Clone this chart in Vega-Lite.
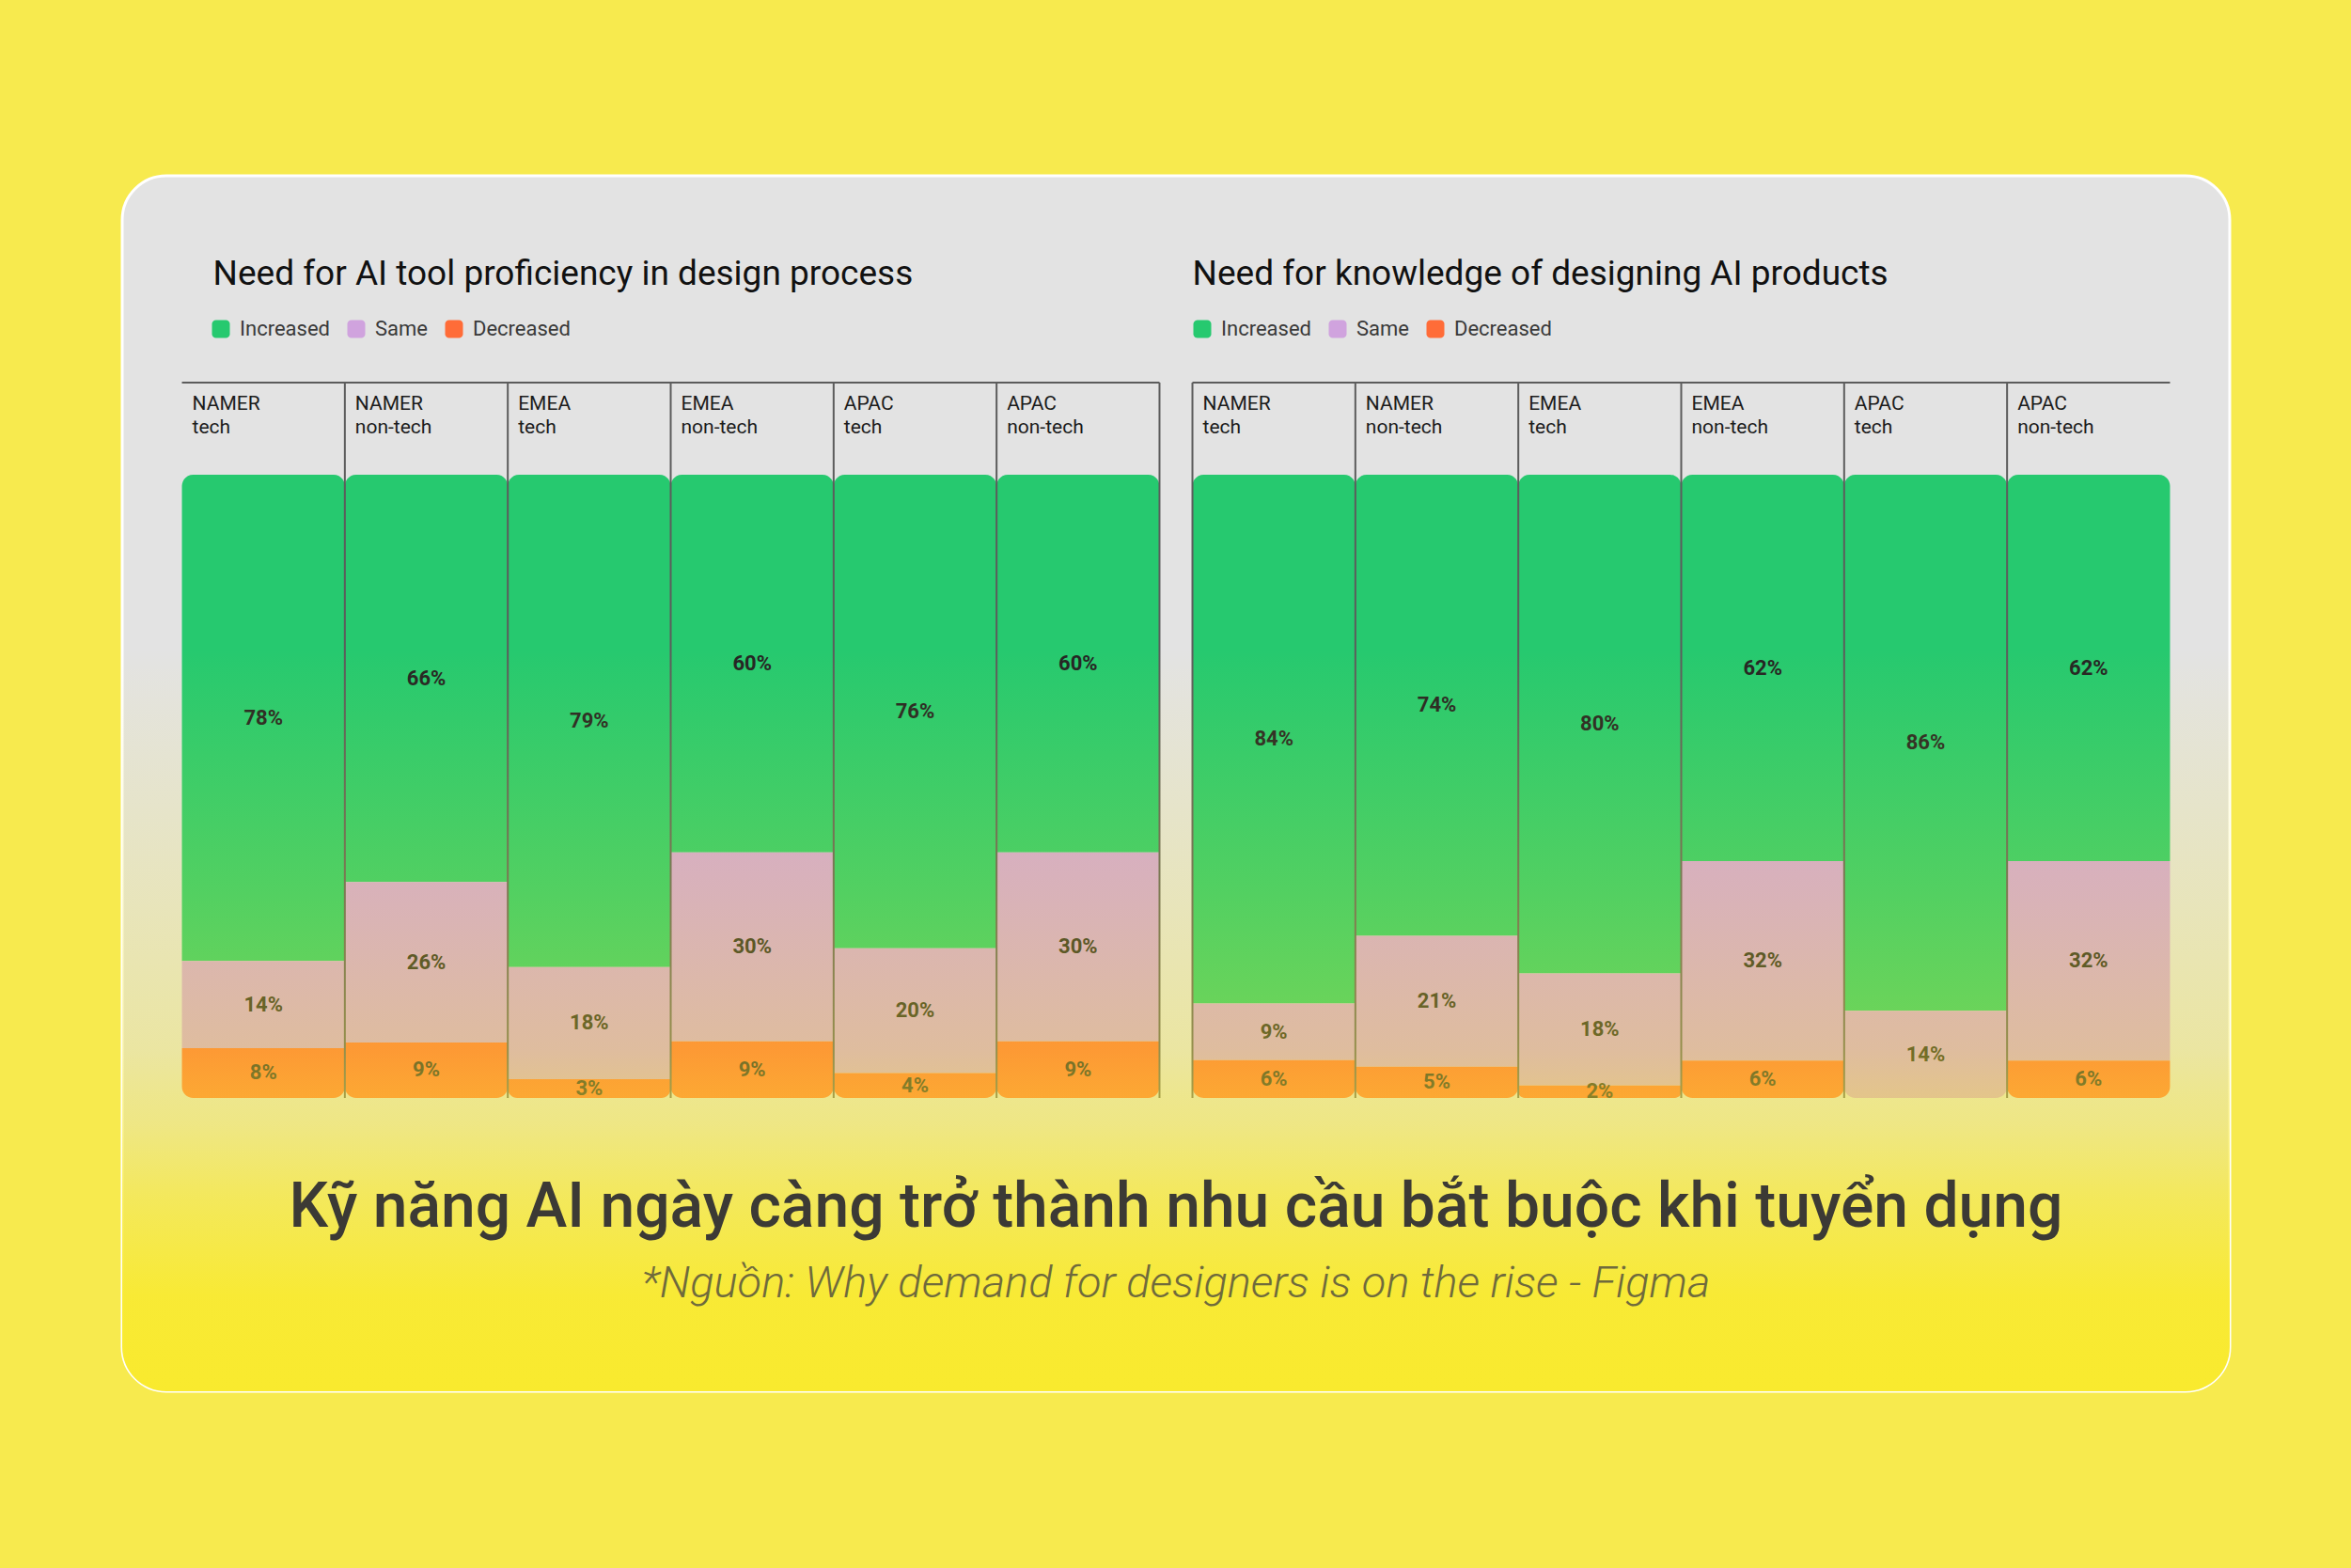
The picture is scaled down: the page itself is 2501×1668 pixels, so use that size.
{
  "$schema": "https://vega.github.io/schema/vega-lite/v6.json",
  "width": 2501,
  "height": 1668,
  "autosize": {"type": "fit", "contains": "padding"},
  "padding": {"left": 130, "top": 187, "right": 129, "bottom": 188},
  "background": "#f7ea4e",
  "datasets": {
    "bars": [
      {"panel": "Need for AI tool proficiency in design process", "grp": "NAMER tech", "status": "Increased", "ord": 2, "pct": 0.78},
      {"panel": "Need for AI tool proficiency in design process", "grp": "NAMER tech", "status": "Same", "ord": 1, "pct": 0.14},
      {"panel": "Need for AI tool proficiency in design process", "grp": "NAMER tech", "status": "Decreased", "ord": 0, "pct": 0.08},
      {"panel": "Need for AI tool proficiency in design process", "grp": "NAMER non-tech", "status": "Increased", "ord": 2, "pct": 0.66},
      {"panel": "Need for AI tool proficiency in design process", "grp": "NAMER non-tech", "status": "Same", "ord": 1, "pct": 0.26},
      {"panel": "Need for AI tool proficiency in design process", "grp": "NAMER non-tech", "status": "Decreased", "ord": 0, "pct": 0.09},
      {"panel": "Need for AI tool proficiency in design process", "grp": "EMEA tech", "status": "Increased", "ord": 2, "pct": 0.79},
      {"panel": "Need for AI tool proficiency in design process", "grp": "EMEA tech", "status": "Same", "ord": 1, "pct": 0.18},
      {"panel": "Need for AI tool proficiency in design process", "grp": "EMEA tech", "status": "Decreased", "ord": 0, "pct": 0.03},
      {"panel": "Need for AI tool proficiency in design process", "grp": "EMEA non-tech", "status": "Increased", "ord": 2, "pct": 0.60},
      {"panel": "Need for AI tool proficiency in design process", "grp": "EMEA non-tech", "status": "Same", "ord": 1, "pct": 0.30},
      {"panel": "Need for AI tool proficiency in design process", "grp": "EMEA non-tech", "status": "Decreased", "ord": 0, "pct": 0.09},
      {"panel": "Need for AI tool proficiency in design process", "grp": "APAC tech", "status": "Increased", "ord": 2, "pct": 0.76},
      {"panel": "Need for AI tool proficiency in design process", "grp": "APAC tech", "status": "Same", "ord": 1, "pct": 0.20},
      {"panel": "Need for AI tool proficiency in design process", "grp": "APAC tech", "status": "Decreased", "ord": 0, "pct": 0.04},
      {"panel": "Need for AI tool proficiency in design process", "grp": "APAC non-tech", "status": "Increased", "ord": 2, "pct": 0.60},
      {"panel": "Need for AI tool proficiency in design process", "grp": "APAC non-tech", "status": "Same", "ord": 1, "pct": 0.30},
      {"panel": "Need for AI tool proficiency in design process", "grp": "APAC non-tech", "status": "Decreased", "ord": 0, "pct": 0.09},
      {"panel": "Need for knowledge of designing AI products", "grp": "NAMER tech", "status": "Increased", "ord": 2, "pct": 0.84},
      {"panel": "Need for knowledge of designing AI products", "grp": "NAMER tech", "status": "Same", "ord": 1, "pct": 0.09},
      {"panel": "Need for knowledge of designing AI products", "grp": "NAMER tech", "status": "Decreased", "ord": 0, "pct": 0.06},
      {"panel": "Need for knowledge of designing AI products", "grp": "NAMER non-tech", "status": "Increased", "ord": 2, "pct": 0.74},
      {"panel": "Need for knowledge of designing AI products", "grp": "NAMER non-tech", "status": "Same", "ord": 1, "pct": 0.21},
      {"panel": "Need for knowledge of designing AI products", "grp": "NAMER non-tech", "status": "Decreased", "ord": 0, "pct": 0.05},
      {"panel": "Need for knowledge of designing AI products", "grp": "EMEA tech", "status": "Increased", "ord": 2, "pct": 0.80},
      {"panel": "Need for knowledge of designing AI products", "grp": "EMEA tech", "status": "Same", "ord": 1, "pct": 0.18},
      {"panel": "Need for knowledge of designing AI products", "grp": "EMEA tech", "status": "Decreased", "ord": 0, "pct": 0.02},
      {"panel": "Need for knowledge of designing AI products", "grp": "EMEA non-tech", "status": "Increased", "ord": 2, "pct": 0.62},
      {"panel": "Need for knowledge of designing AI products", "grp": "EMEA non-tech", "status": "Same", "ord": 1, "pct": 0.32},
      {"panel": "Need for knowledge of designing AI products", "grp": "EMEA non-tech", "status": "Decreased", "ord": 0, "pct": 0.06},
      {"panel": "Need for knowledge of designing AI products", "grp": "APAC tech", "status": "Increased", "ord": 2, "pct": 0.86},
      {"panel": "Need for knowledge of designing AI products", "grp": "APAC tech", "status": "Same", "ord": 1, "pct": 0.14},
      {"panel": "Need for knowledge of designing AI products", "grp": "APAC tech", "status": "Decreased", "ord": 0, "pct": 0},
      {"panel": "Need for knowledge of designing AI products", "grp": "APAC non-tech", "status": "Increased", "ord": 2, "pct": 0.62},
      {"panel": "Need for knowledge of designing AI products", "grp": "APAC non-tech", "status": "Same", "ord": 1, "pct": 0.32},
      {"panel": "Need for knowledge of designing AI products", "grp": "APAC non-tech", "status": "Decreased", "ord": 0, "pct": 0.06}
    ],
    "captions": [
      {"line": "title", "text": "Kỹ năng AI ngày càng trở thành nhu cầu bắt buộc khi tuyển dụng"}
    ],
    "sources": [
      {"line": "source", "text": "*Nguồn: Why demand for designers is on the rise - Figma"}
    ]
  },
  "resolve": {"scale": {"xOffset": "independent"}},
  "layer": [
    {
      "data": {"name": "bars"},
      "transform": [
        {"filter": "datum.pct > 0"},
        {"stack": "pct", "groupby": ["panel", "grp"], "sort": [{"field": "ord", "order": "ascending"}], "offset": "normalize", "as": ["y0", "y1"]}
      ],
      "mark": {
        "type": "bar",
        "cornerRadiusTopLeft": {"expr": "datum.y1 > 0.999 ? 12 : 0"},
        "cornerRadiusTopRight": {"expr": "datum.y1 > 0.999 ? 12 : 0"},
        "cornerRadiusBottomLeft": {"expr": "datum.y0 < 0.001 ? 12 : 0"},
        "cornerRadiusBottomRight": {"expr": "datum.y0 < 0.001 ? 12 : 0"}
      },
      "encoding": {
        "x": {"field": "panel", "type": "nominal", "sort": null, "axis": null,
              "scale": {"paddingInner": 0.0326, "paddingOuter": 0.0591}},
        "xOffset": {"field": "grp", "type": "nominal",
                    "scale": {"type": "band", "domain": ["NAMER tech", "NAMER non-tech", "EMEA tech", "EMEA non-tech", "APAC tech", "APAC non-tech"], "paddingInner": 0, "paddingOuter": 0}},
        "y": {"field": "y1", "type": "quantitative", "axis": null,
              "scale": {"domain": [-0.4706, 1.4796], "nice": false, "zero": false}},
        "y2": {"field": "y0"},
        "color": {
          "field": "status", "type": "nominal",
          "scale": {"domain": ["Increased", "Same", "Decreased"], "range": ["#26c96f", "#d0a3de", "#ff6c38"]},
          "legend": {"orient": "none", "legendX": 94, "legendY": 152, "direction": "horizontal", "title": null}
        }
      }
    },
    {
      "data": {"name": "bars"},
      "transform": [{"filter": "datum.status == 'Increased'"}],
      "mark": {"type": "point", "filled": true, "size": 0, "opacity": 1},
      "encoding": {
        "x": {"field": "panel", "type": "nominal", "sort": null},
        "y": {"datum": 0.5},
        "fill": {
          "field": "status", "type": "nominal",
          "scale": {"domain": ["Increased", "Same", "Decreased", "n/a"], "range": ["#26c96f", "#d0a3de", "#ff6c38", "#999999"]},
          "legend": {"orient": "none", "legendX": 1138, "legendY": 152, "direction": "horizontal", "title": null,
                     "values": ["Increased", "Same", "Decreased"]}
        }
      }
    },
    {
      "data": {"name": "bars"},
      "transform": [
        {"filter": "datum.status == 'Increased' && !(datum.panel == 'Need for AI tool proficiency in design process' && datum.grp == 'NAMER tech')"}
      ],
      "mark": {"type": "rule", "color": "#5c5c5c", "strokeWidth": 2},
      "encoding": {
        "x": {"field": "panel", "type": "nominal", "sort": null},
        "xOffset": {"field": "grp", "type": "nominal",
                    "scale": {"type": "point", "domain": ["NAMER tech", "NAMER non-tech", "EMEA tech", "EMEA non-tech", "APAC tech", "APAC non-tech", "end"], "padding": 0}},
        "y": {"datum": 0},
        "y2": {"datum": 1.1478}
      }
    },
    {
      "data": {"name": "bars"},
      "transform": [
        {"filter": "datum.status == 'Increased' && datum.panel == 'Need for AI tool proficiency in design process' && datum.grp == 'APAC non-tech'"}
      ],
      "mark": {"type": "rule", "color": "#5c5c5c", "strokeWidth": 2},
      "encoding": {
        "x": {"field": "panel", "type": "nominal", "sort": null, "bandPosition": 1},
        "y": {"datum": 0},
        "y2": {"datum": 1.1478}
      }
    },
    {
      "data": {"name": "bars"},
      "transform": [{"filter": "datum.status == 'Increased' && datum.grp == 'NAMER tech'"}],
      "mark": {"type": "bar", "color": "#5c5c5c"},
      "encoding": {
        "x": {"field": "panel", "type": "nominal", "sort": null},
        "y": {"datum": 1.1493},
        "y2": {"datum": 1.1463}
      }
    },
    {
      "data": {"name": "bars"},
      "transform": [
        {"filter": "datum.pct > 0"},
        {"stack": "pct", "groupby": ["panel", "grp"], "sort": [{"field": "ord", "order": "ascending"}], "offset": "normalize", "as": ["y0", "y1"]},
        {"fold": ["y0", "y1"], "as": ["edge", "yy"]},
        {"aggregate": [{"op": "mean", "field": "yy", "as": "ymid"}], "groupby": ["panel", "grp", "status", "pct"]}
      ],
      "mark": {"type": "text", "font": "Roboto", "fontSize": 22, "fontWeight": "bold", "color": "#242424", "baseline": "middle"},
      "encoding": {
        "x": {"field": "panel", "type": "nominal", "sort": null},
        "xOffset": {"field": "grp", "type": "nominal",
                    "scale": {"type": "band", "domain": ["NAMER tech", "NAMER non-tech", "EMEA tech", "EMEA non-tech", "APAC tech", "APAC non-tech"], "paddingInner": 0, "paddingOuter": 0}},
        "y": {"field": "ymid", "type": "quantitative"},
        "text": {"field": "pct", "type": "quantitative", "format": ".0%"}
      }
    },
    {
      "data": {"values": [{"band": "fade"}]},
      "mark": {
        "type": "rect",
        "cornerRadiusBottomLeft": 47,
        "cornerRadiusBottomRight": 47,
        "color": {
          "gradient": "linear", "x1": 0, "y1": 0, "x2": 0, "y2": 1,
          "stops": [
            {"offset": 0, "color": "rgba(249,234,46,0)"},
            {"offset": 0.34, "color": "rgba(249,234,46,0.22)"},
            {"offset": 0.54, "color": "rgba(249,234,46,0.36)"},
            {"offset": 0.605, "color": "rgba(249,234,46,0.48)"},
            {"offset": 0.64, "color": "rgba(249,234,46,0.52)"},
            {"offset": 0.74, "color": "rgba(249,234,46,0.75)"},
            {"offset": 0.87, "color": "rgba(249,234,46,0.96)"},
            {"offset": 1, "color": "rgba(249,234,46,1)"}
          ]
        }
      },
      "encoding": {
        "y": {"datum": 0.721},
        "y2": {"datum": -0.4706}
      }
    },
    {
      "data": {"name": "bars"},
      "transform": [{"filter": "datum.status == 'Increased'"}],
      "mark": {"type": "text", "font": "Roboto", "fontSize": 21, "color": "#1c1c1c", "align": "left", "baseline": "top", "lineBreak": " ", "lineHeight": 25, "dx": 11},
      "encoding": {
        "x": {"field": "panel", "type": "nominal", "sort": null},
        "xOffset": {"field": "grp", "type": "nominal",
                    "scale": {"type": "point", "domain": ["NAMER tech", "NAMER non-tech", "EMEA tech", "EMEA non-tech", "APAC tech", "APAC non-tech", "end"], "padding": 0}},
        "y": {"datum": 1.1297},
        "text": {"field": "grp"}
      }
    },
    {
      "data": {"name": "bars"},
      "transform": [{"filter": "datum.status == 'Increased' && datum.grp == 'NAMER tech'"}],
      "mark": {"type": "text", "font": "Roboto", "fontSize": 37, "color": "#111111", "align": "left", "baseline": "alphabetic",
               "dx": {"expr": "datum.panel == 'Need for knowledge of designing AI products' ? 0 : 33"}},
      "encoding": {
        "x": {"field": "panel", "type": "nominal", "sort": null, "bandPosition": 0},
        "y": {"datum": 1.3047},
        "text": {"field": "panel"}
      }
    },
    {
      "data": {"name": "captions"},
      "mark": {"type": "text", "font": "Roboto", "fontSize": 66, "fontWeight": 500, "color": "#3c3a35", "align": "center", "baseline": "alphabetic"},
      "encoding": {
        "y": {"datum": -0.2066},
        "text": {"field": "text"}
      }
    },
    {
      "data": {"name": "sources"},
      "mark": {"type": "text", "font": "Roboto", "fontSize": 47, "fontStyle": "italic", "fontWeight": 300, "color": "#6f6a3c", "align": "center", "baseline": "alphabetic"},
      "encoding": {
        "y": {"datum": -0.3198},
        "text": {"field": "text"}
      }
    }
  ],
  "config": {
    "view": {"fill": "#e3e3e3", "stroke": "#ffffff", "strokeWidth": 3, "cornerRadius": 47},
    "legend": {
      "labelFont": "Roboto",
      "labelFontSize": 22,
      "labelColor": "#3a3a3a",
      "symbolType": "M-0.55,-1H0.55A0.45,0.45,0,0,1,1,-0.55V0.55A0.45,0.45,0,0,1,0.55,1H-0.55A0.45,0.45,0,0,1,-1,0.55V-0.55A0.45,0.45,0,0,1,-0.55,-1Z",
      "symbolSize": 361,
      "symbolStrokeWidth": 0,
      "labelOffset": 9,
      "columnPadding": 17
    }
  }
}
